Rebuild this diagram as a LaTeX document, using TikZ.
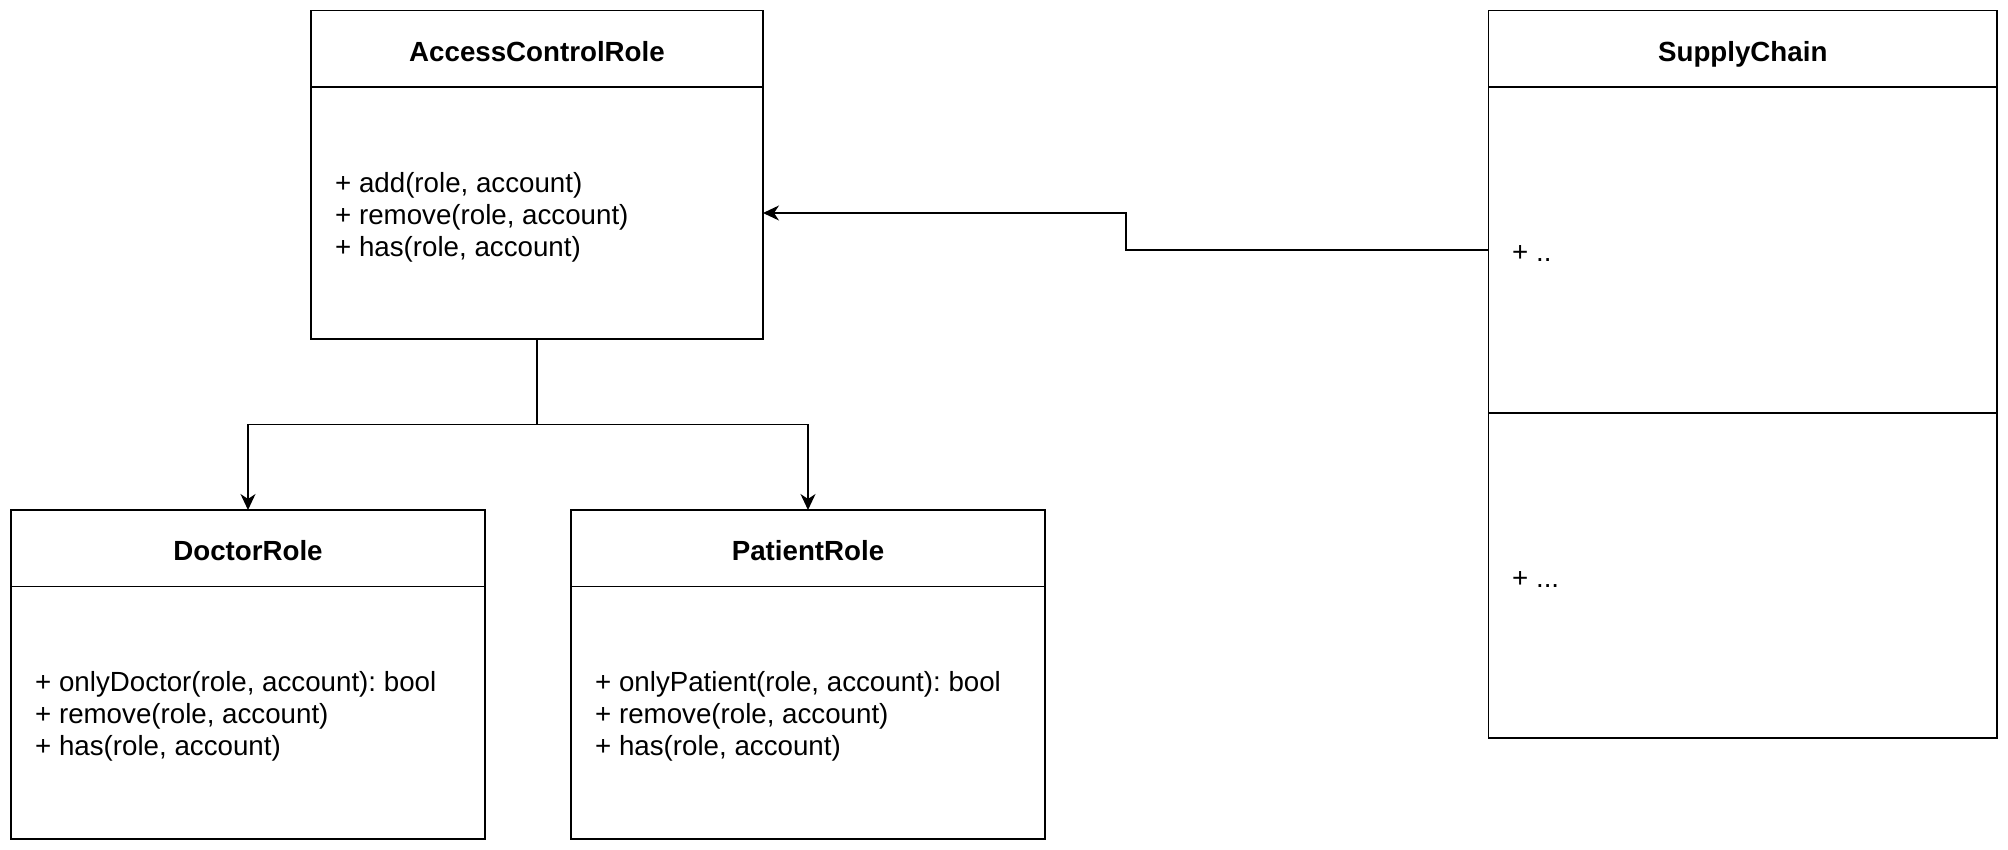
\documentclass[tikz,border=0pt]{standalone}
\usepackage{fontspec}
\setmainfont{Liberation Sans}
\usetikzlibrary{arrows.meta}
\begin{document}
\frenchspacing
\begin{tikzpicture}[x=1pt,y=-1pt,
  box/.style={draw=black, line width=1.7pt, rectangle, inner sep=0pt, outer sep=0pt, anchor=north west},
  head/.style={box, font=\fontsize{27.7}{33}\selectfont\bfseries, align=center, text height=31pt, text depth=6pt},
  body/.style={box},
  bodytext/.style={anchor=west, inner sep=0pt, align=left, font=\fontsize{27.7}{32}\selectfont},
  conn/.style={line width=1.7pt, -{Stealth[length=16pt,width=15pt,inset=5pt]}}]
\useasboundingbox[fill=white] (0,0) rectangle (2008,850);

\node[head, minimum width=452pt, minimum height=76.5pt] (acrhead) at (311,10.5) {AccessControlRole};
\node[body, minimum width=452pt, minimum height=252pt] (acrbody) at (311,87) {};
\node[bodytext] (acrtext) at ([xshift=24pt,yshift=-4pt]acrbody.west)
  {+ add(role, account)\\+ remove(role, account)\\+ has(role, account)};

\node[head, minimum width=474pt, minimum height=76.5pt] (dochead) at (11,510) {DoctorRole};
\node[body, minimum width=474pt, minimum height=252.5pt] (docbody) at (11,586.5) {};
\node[bodytext] (doctext) at ([xshift=24pt,yshift=-4pt]docbody.west)
  {+ onlyDoctor(role, account): bool\\+ remove(role, account)\\+ has(role, account)};

\node[head, minimum width=474pt, minimum height=76.5pt] (pathead) at (571,510) {PatientRole};
\node[body, minimum width=474pt, minimum height=252.5pt] (patbody) at (571,586.5) {};
\node[bodytext] (pattext) at ([xshift=24pt,yshift=-4pt]patbody.west)
  {+ onlyPatient(role, account): bool\\+ remove(role, account)\\+ has(role, account)};

\node[head, minimum width=508.5pt, minimum height=76.5pt] (schead) at (1488.5,10.5) {SupplyChain};
\node[body, minimum width=508.5pt, minimum height=326pt] (scbody1) at (1488.5,87) {};
\node[bodytext] (sctext1) at ([xshift=23.5pt,yshift=-4pt]scbody1.west) {+ ..};
\node[body, minimum width=508.5pt, minimum height=325pt] (scbody2) at (1488.5,413) {};
\node[bodytext] (sctext2) at ([xshift=23.5pt,yshift=-4pt]scbody2.west) {+ ...};

\draw[conn] (acrbody.south) -- ++(0,85.5) -| (dochead.north);
\draw[conn] (acrbody.south) -- ++(0,85.5) -| (pathead.north);
\coordinate (bx) at (1126,250);
\draw[conn] (scbody1.west) -- (bx) |- (acrbody.east);
\end{tikzpicture}
\end{document}
